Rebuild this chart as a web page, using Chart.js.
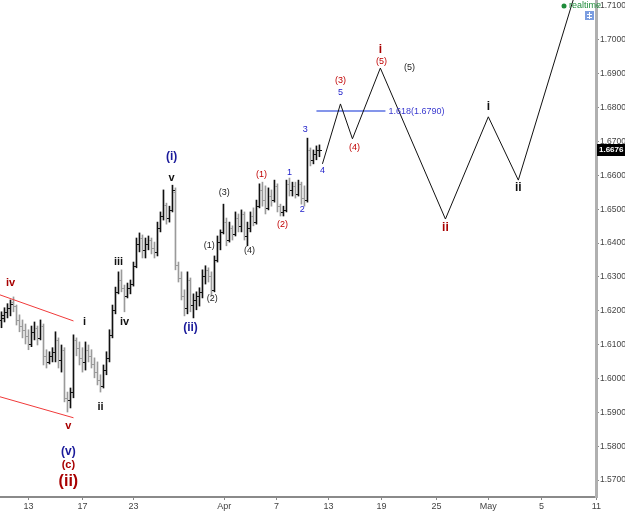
<!DOCTYPE html>
<html>
<head>
<meta charset="utf-8">
<script src="https://cdn.jsdelivr.net/npm/chart.js@4.4.1/dist/chart.umd.min.js"></script>
<style>
html, body { margin: 0; padding: 0; background: #fff; }
</style>
</head>
<body>
<canvas id="chart" width="625" height="515"></canvas>
<script>
// price bars (one per bar index)
var openP  = [1.6173,1.6179,1.6197,1.6209,1.6226,1.6214,1.6173,1.6155,1.6144,1.6126,1.6102,1.6138,1.6150,1.6120,1.6155,1.6067,1.6049,1.6067,1.6079,1.6114,1.6055,1.6085,1.5943,1.5937,1.5960,1.6114,1.6091,1.6061,1.6049,1.6085,1.6067,1.6043,1.6019,1.5996,1.5978,1.6025,1.6061,1.6129,1.6203,1.6256,1.6291,1.6268,1.6244,1.6268,1.6279,1.6333,1.6397,1.6415,1.6380,1.6397,1.6409,1.6386,1.6374,1.6445,1.6480,1.6512,1.6474,1.6498,1.6551,1.6335,1.6297,1.6244,1.6209,1.6291,1.6217,1.6232,1.6244,1.6256,1.6303,1.6321,1.6303,1.6262,1.6350,1.6403,1.6433,1.6462,1.6409,1.6445,1.6427,1.6474,1.6451,1.6486,1.6421,1.6445,1.6480,1.6462,1.6509,1.6557,1.6527,1.6504,1.6539,1.6527,1.6569,1.6509,1.6492,1.6498,1.6575,1.6557,1.6569,1.6545,1.6575,1.6533,1.6527,1.6675,1.6646,1.6663,1.6675];
var highP  = [1.6197,1.6209,1.6221,1.6232,1.6241,1.6217,1.6188,1.6173,1.6161,1.6144,1.6155,1.6167,1.6155,1.6173,1.6161,1.6085,1.6079,1.6091,1.6138,1.6120,1.6099,1.6091,1.5960,1.5972,1.6129,1.6120,1.6108,1.6091,1.6108,1.6099,1.6085,1.6061,1.6049,1.6011,1.6040,1.6079,1.6144,1.6217,1.6270,1.6315,1.6321,1.6276,1.6282,1.6291,1.6344,1.6415,1.6430,1.6424,1.6415,1.6421,1.6415,1.6403,1.6462,1.6492,1.6557,1.6518,1.6509,1.6571,1.6563,1.6344,1.6315,1.6262,1.6315,1.6297,1.6250,1.6256,1.6268,1.6321,1.6333,1.6327,1.6315,1.6362,1.6421,1.6439,1.6515,1.6474,1.6462,1.6451,1.6492,1.6486,1.6498,1.6492,1.6462,1.6492,1.6504,1.6527,1.6575,1.6580,1.6569,1.6563,1.6557,1.6586,1.6575,1.6515,1.6509,1.6586,1.6592,1.6580,1.6580,1.6586,1.6580,1.6569,1.6710,1.6681,1.6675,1.6687,1.6690];
var lowP   = [1.6150,1.6167,1.6179,1.6185,1.6197,1.6158,1.6138,1.6120,1.6102,1.6085,1.6094,1.6114,1.6099,1.6114,1.6040,1.6031,1.6043,1.6049,1.6049,1.6031,1.6019,1.5931,1.5901,1.5913,1.5943,1.6067,1.6040,1.6019,1.6025,1.6049,1.6031,1.6002,1.5981,1.5960,1.5972,1.6011,1.6049,1.6120,1.6191,1.6250,1.6256,1.6197,1.6238,1.6250,1.6273,1.6327,1.6374,1.6356,1.6356,1.6380,1.6368,1.6356,1.6362,1.6433,1.6468,1.6456,1.6462,1.6492,1.6321,1.6285,1.6232,1.6185,1.6191,1.6197,1.6179,1.6203,1.6214,1.6238,1.6279,1.6285,1.6244,1.6256,1.6344,1.6380,1.6427,1.6392,1.6403,1.6409,1.6421,1.6433,1.6433,1.6409,1.6392,1.6433,1.6451,1.6456,1.6504,1.6509,1.6486,1.6498,1.6509,1.6521,1.6492,1.6480,1.6480,1.6492,1.6539,1.6539,1.6533,1.6539,1.6515,1.6509,1.6521,1.6628,1.6634,1.6646,1.6655];
var closeP = [1.6188,1.6197,1.6209,1.6221,1.6214,1.6173,1.6155,1.6144,1.6126,1.6102,1.6138,1.6150,1.6120,1.6155,1.6067,1.6049,1.6067,1.6079,1.6114,1.6055,1.6085,1.5943,1.5937,1.5960,1.6114,1.6091,1.6061,1.6049,1.6085,1.6067,1.6043,1.6019,1.5996,1.5978,1.6025,1.6061,1.6129,1.6203,1.6256,1.6291,1.6268,1.6244,1.6268,1.6279,1.6333,1.6397,1.6415,1.6380,1.6397,1.6409,1.6386,1.6374,1.6445,1.6480,1.6512,1.6474,1.6498,1.6557,1.6335,1.6297,1.6244,1.6209,1.6291,1.6217,1.6232,1.6244,1.6256,1.6303,1.6321,1.6303,1.6262,1.6350,1.6403,1.6433,1.6462,1.6409,1.6445,1.6427,1.6474,1.6451,1.6486,1.6421,1.6445,1.6480,1.6462,1.6509,1.6557,1.6527,1.6504,1.6539,1.6527,1.6569,1.6509,1.6492,1.6498,1.6575,1.6557,1.6569,1.6545,1.6575,1.6533,1.6527,1.6675,1.6646,1.6663,1.6675,1.6676];

var tickPos = [9, 27, 44, 74.3, 91.7, 109, 126.7, 145, 162.3, 180, 198.3];
var tickLabels = ["13", "17", "23", "Apr", "7", "13", "19", "25", "May", "5", "11"];
var priceTicks = [1.57, 1.58, 1.59, 1.60, 1.61, 1.62, 1.63, 1.64, 1.65, 1.66, 1.67, 1.68, 1.69, 1.70, 1.71];

// projected wave path
var projX = [107, 113, 117, 126.3, 148, 162.3, 172.3, 191];
var projY = [1.6634, 1.6811, 1.6708, 1.6917, 1.6471, 1.6773, 1.6586, 1.7130];

var fibX = [105, 128];
var fibLevel = 1.6790;
var fibText = "1.618(1.6790)";

// wedge lines
var wedgeX = [-0.5, 24];
var wedgeTop = [1.6247, 1.6170];
var wedgeBottom = [1.5946, 1.5884];

var lastPrice = 1.6676;

// wave counts
var waveText = ["iv", "v", "(v)", "(c)", "(ii)", "i", "ii", "iii", "iv", "(i)", "v", "(ii)", "(1)", "(2)", "(3)", "(4)", "(1)", "(2)", "1", "2", "3", "4", "(3)", "5", "(4)", "i", "(5)", "(5)", "ii", "i", "ii"];
var waveX = [3, 22.3, 22.3, 22.3, 22.3, 27.7, 33, 39, 41, 56.7, 56.7, 63, 69.3, 70.3, 74.3, 82.7, 86.7, 93.7, 96, 100.3, 101.3, 107, 113, 113, 117.7, 126.3, 126.7, 136, 148, 162.3, 172.3];
var waveY = [1.6282, 1.5860, 1.5783, 1.5745, 1.5695, 1.6167, 1.5916, 1.6344, 1.6167, 1.6654, 1.6592, 1.6149, 1.6392, 1.6235, 1.6548, 1.6377, 1.6604, 1.6454, 1.6607, 1.6498, 1.6734, 1.6613, 1.6879, 1.6846, 1.6681, 1.6970, 1.6935, 1.6920, 1.6445, 1.6802, 1.6563];
var waveKind = ["redB", "redB", "blueB", "redB", "redXL", "blackB", "blackB", "blackB", "blackB", "blueB", "blackB", "blueB", "dark", "dark", "dark", "dark", "red", "red", "blue", "blue", "blue", "blue", "red", "blue", "red", "redL", "red", "dark", "redL", "blackL", "blackL"];

var FONT = "'Liberation Sans', Arial, sans-serif";
var kindStyle = {
    redB:   { font: "bold 11px " + FONT, color: "#a80000" },
    redL:   { font: "bold 12px " + FONT, color: "#a80000" },
    redXL:  { font: "bold 16px " + FONT, color: "#a80000" },
    red:    { font: "9px " + FONT, color: "#c00000" },
    blueB:  { font: "bold 12px " + FONT, color: "#1a1a9a" },
    blue:   { font: "9px " + FONT, color: "#1a1ac8" },
    blackB: { font: "bold 11px " + FONT, color: "#111" },
    blackL: { font: "bold 12px " + FONT, color: "#111" },
    dark:   { font: "9px " + FONT, color: "#222" }
};

var barData = [];
var barColors = [];
for (var i = 0; i < highP.length; i++) {
    barData.push({ x: i, y: [lowP[i], highP[i]] });
    barColors.push(closeP[i] >= openP[i] ? "#111" : "#9a9a9a");
}

function pts(xs, ys) {
    var out = [];
    for (var i = 0; i < xs.length; i++) out.push({ x: xs[i], y: ys[i] });
    return out;
}

// open / close ticks, labels and price tag
var overlayPlugin = {
    id: "overlay",
    afterDatasetsDraw: function (chart) {
        var ctx = chart.ctx;
        var xs = chart.scales.x, ys = chart.scales.y;
        ctx.save();
        for (var i = 0; i < openP.length; i++) {
            var px = Math.round(xs.getPixelForValue(i));
            ctx.fillStyle = barColors[i];
            ctx.fillRect(px - 2, Math.round(ys.getPixelForValue(openP[i])), 2, 1);
            ctx.fillRect(px + 1, Math.round(ys.getPixelForValue(closeP[i])), 2, 1);
        }
        ctx.textAlign = "center";
        ctx.textBaseline = "middle";
        for (var j = 0; j < waveText.length; j++) {
            var st = kindStyle[waveKind[j]];
            ctx.font = st.font;
            ctx.fillStyle = st.color;
            ctx.fillText(waveText[j], xs.getPixelForValue(waveX[j]), ys.getPixelForValue(waveY[j]));
        }
        ctx.font = "9px " + FONT;
        ctx.fillStyle = "#3a3ad0";
        ctx.textAlign = "left";
        ctx.fillText(fibText, xs.getPixelForValue(fibX[1]) + 3, ys.getPixelForValue(fibLevel));

        // last price tag
        var ty = Math.round(ys.getPixelForValue(lastPrice));
        ctx.fillStyle = "#000";
        ctx.fillRect(xs.right + 1, ty - 6, chart.width - xs.right, 12);
        ctx.fillStyle = "#fff";
        ctx.font = "bold 8px " + FONT;
        ctx.fillText(lastPrice.toFixed(4), xs.right + 3, ty);

        // realtime badge
        ctx.fillStyle = "#1e8c3a";
        ctx.beginPath();
        ctx.arc(564, 6, 2.5, 0, Math.PI * 2);
        ctx.fill();
        ctx.font = "9px " + FONT;
        ctx.fillText("realtime", 569, 6);
        ctx.fillStyle = "#7b9de0";
        ctx.fillRect(585, 11, 9, 9);
        ctx.fillStyle = "#fff";
        ctx.fillRect(589, 12, 1, 7);
        ctx.fillRect(587, 14, 5, 1);
        ctx.fillRect(587, 17, 5, 1);
        ctx.restore();
    }
};

new Chart(document.getElementById("chart"), {
    type: "bar",
    data: {
        datasets: [
            {
                type: "line",
                data: pts(projX, projY),
                borderColor: "#111",
                borderWidth: 1,
                pointRadius: 0,
                order: 1
            },
            {
                type: "line",
                data: pts(fibX, [fibLevel, fibLevel]),
                borderColor: "rgba(110,130,230,0.85)",
                borderWidth: 2,
                pointRadius: 0,
                order: 2
            },
            {
                type: "line",
                data: pts(wedgeX, wedgeTop),
                borderColor: "#f03a3a",
                borderWidth: 1,
                pointRadius: 0,
                order: 3
            },
            {
                type: "line",
                data: pts(wedgeX, wedgeBottom),
                borderColor: "#f03a3a",
                borderWidth: 1,
                pointRadius: 0,
                order: 3
            },
            {
                data: barData,
                backgroundColor: barColors,
                barThickness: 1,
                order: 4
            }
        ]
    },
    options: {
        responsive: false,
        animation: false,
        layout: { padding: 0 },
        plugins: {
            legend: { display: false },
            tooltip: { enabled: false }
        },
        scales: {
            x: {
                type: "linear",
                offset: false,
                min: -0.5,
                max: 198.2,
                grid: { offset: false, drawOnChartArea: false, drawTicks: true, tickLength: 3, tickColor: "#888" },
                border: { color: "#8a8a8a", width: 2 },
                afterBuildTicks: function (scale) {
                    scale.ticks = tickPos.map(function (v) { return { value: v }; });
                },
                afterFit: function (scale) {
                    scale.height = 18;
                    scale.paddingLeft = 0;
                    scale.paddingRight = 0;
                },
                ticks: {
                    autoSkip: false,
                    maxRotation: 0,
                    padding: 1,
                    color: "#444",
                    font: { size: 9, family: FONT },
                    callback: function (v, idx) { return tickLabels[idx]; }
                }
            },
            y: {
                position: "right",
                min: 1.5650,
                max: 1.7118,
                grid: { drawOnChartArea: false, drawTicks: true, tickLength: 3, tickColor: "#888" },
                border: { color: "#b0b0b0", width: 3 },
                afterBuildTicks: function (scale) {
                    scale.ticks = priceTicks.map(function (v) { return { value: v }; });
                },
                afterFit: function (scale) {
                    scale.width = 29;
                    scale.paddingTop = 0;
                    scale.paddingBottom = 0;
                },
                ticks: {
                    padding: 1,
                    color: "#444",
                    font: { size: 8.5, family: FONT },
                    callback: function (v) { return Number(v).toFixed(4); }
                }
            }
        }
    },
    plugins: [overlayPlugin]
});
</script>
</body>
</html>
